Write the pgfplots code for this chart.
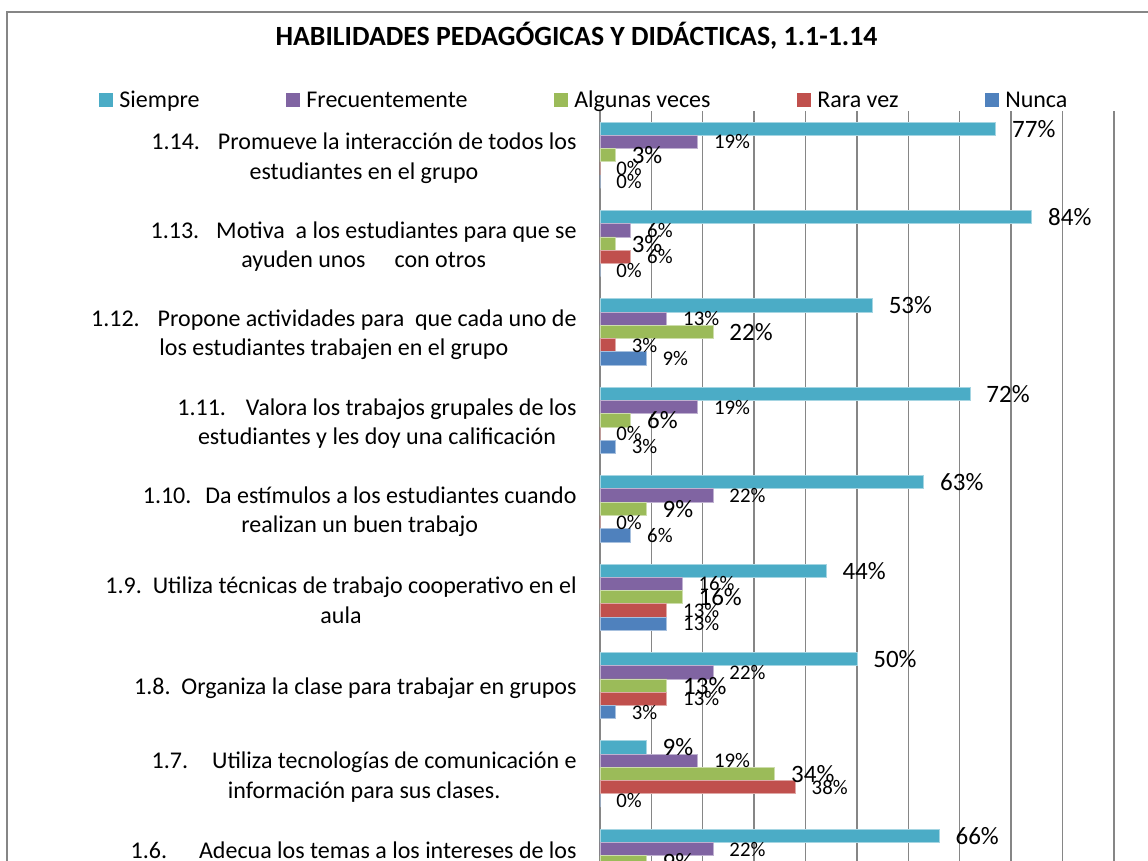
\documentclass[border=0pt]{standalone}
\usepackage{fontspec}
\setmainfont{Carlito}
\usepackage{pgfplots}
\usepackage{pgfplotstable}
\pgfplotsset{compat=1.18}
\definecolor{cS}{HTML}{4BACC6}
\definecolor{cF}{HTML}{8064A2}
\definecolor{cA}{HTML}{9BBB59}
\definecolor{cR}{HTML}{C0504D}
\definecolor{cN}{HTML}{4F81BD}
\definecolor{gridc}{HTML}{868686}
\newcommand\bigf{\fontsize{12.5pt}{14pt}\selectfont}
\newcommand\smallf{\fontsize{10.4pt}{12pt}\selectfont}
\newcommand\labf{\fontsize{12pt}{14.7pt}\selectfont}

\pgfplotstableread{
y  S  F  A  R   N
14 77 19 3  0   0
13 84 6  3  6   0
12 53 13 22 3   9
11 72 19 6  0   3
10 63 22 9  0   6
9  44 16 16 13  13
8  50 22 13 13  3
7  9  19 34 38  0
6  66 22 9  nan nan
}\data

\begin{document}
\begin{tikzpicture}
\useasboundingbox (0,0) rectangle (574pt,430.5pt);
\clip (0,0) rectangle (574pt,430.5pt);
\draw[gridc, line width=1pt] (3.5pt,-20pt) -- (3.5pt,424.5pt) -- (600pt,424.5pt);
\begin{axis}[
  at={(300pt,375pt)}, anchor=north west,
  scale only axis, width=257pt, height=618.8pt,
  xbar, bar width=0.15,
  xmin=0, xmax=100, ymin=0.5, ymax=14.5,
  xtick={0,10,...,100}, xticklabels={},
  xmajorgrids, grid style={gridc, line width=0.7pt},
  axis line style={draw=none},
  major tick length=0pt,
  ytick={6,...,14},
  yticklabels={
    {1.6.\hspace{16pt}Adecua los temas a los intereses de los\\estudiantes},
    {1.7.\hspace{12pt}Utiliza tecnologías de comunicación e\\información para sus clases.},
    {1.8.\ \ Organiza la clase para trabajar en grupos},
    {1.9.\ \ Utiliza técnicas de trabajo cooperativo en el\\aula},
    {1.10.\hspace{7pt}Da estímulos a los estudiantes cuando\\realizan un buen trabajo},
    {1.11.\hspace{10pt}Valora los trabajos grupales de los\\estudiantes y les doy una calificación},
    {1.12.\hspace{9pt}Propone actividades para\ \ que cada uno de\\los estudiantes trabajen en el grupo},
    {1.13.\hspace{8.5pt}Motiva\ \ a los estudiantes para que se\\ayuden unos\hspace{14.5pt}con otros},
    {1.14.\hspace{9pt}Promueve la interacción de todos los\\estudiantes en el grupo}
  },
  yticklabel style={font=\labf, align=center, anchor=east, inner sep=0pt, xshift=-11.5pt, yshift=-1.5pt},
  title={HABILIDADES PEDAGÓGICAS Y DIDÁCTICAS, 1.1-1.14},
  every axis title shift=0pt,
  title style={font=\fontsize{13.9pt}{16pt}\selectfont\bfseries, at={(axis description cs:-0.0457,1.0533)}, anchor=base, inner sep=0pt},
  legend columns=5,
  legend cell align=left,
  legend image code/.code={\fill[#1, draw=none] (0pt,0pt) rectangle (7pt,7pt);},
  legend style={at={(axis description cs:-0.9747,1.0085)}, anchor=west, draw=none, fill=none,
    inner sep=0pt, font=\labf, nodes={inner sep=0pt, anchor=base},
    /tikz/every even column/.append style={column sep=43.4pt},
    /tikz/every odd column/.append style={column sep=3pt}},
  point meta=x,
  /pgf/number format/assume math mode=true,
  nodes near coords={\pgfmathprintnumber{\pgfplotspointmeta}\%},
  every node near coord/.append style={anchor=west, inner sep=0pt, xshift=8pt, text=black},
]
\addplot[fill=cS, draw=cS!50!white, bar shift=0.3, every node near coord/.append style={font=\bigf}] table[x=S,y=y]{\data};
\addplot[fill=cF, draw=cF!50!white, bar shift=0.15, every node near coord/.append style={font=\smallf}] table[x=F,y=y]{\data};
\addplot[fill=cA, draw=cA!50!white, bar shift=0, every node near coord/.append style={font=\bigf}] table[x=A,y=y]{\data};
\addplot[fill=cR, draw=cR!50!white, bar shift=-0.15, every node near coord/.append style={font=\smallf}] table[x=R,y=y]{\data};
\addplot[fill=cN, draw=cN!50!white, bar shift=-0.3, every node near coord/.append style={font=\smallf}] table[x=N,y=y]{\data};
\legend{Siempre, Frecuentemente, Algunas veces, Rara vez, Nunca}
\end{axis}
\end{tikzpicture}
\end{document}
